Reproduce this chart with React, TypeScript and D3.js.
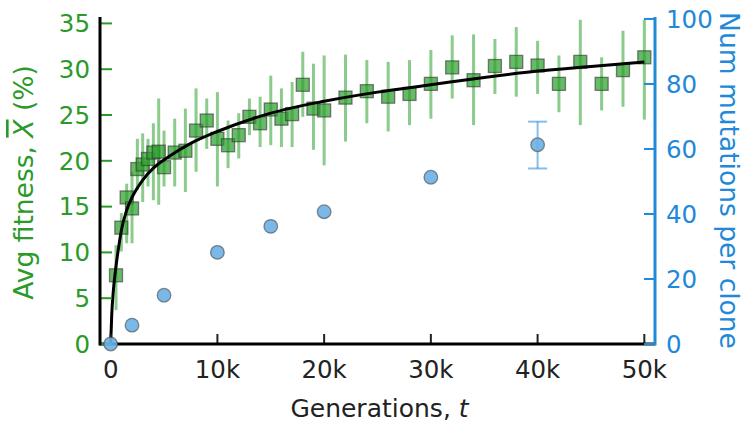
import React from "react";
import * as d3 from "d3";

// Average fitness (%) by generation, with error-bar bounds
const fitGen = [500, 1000, 1500, 2000, 2500, 3000, 3500, 4000, 4500, 5000, 6000, 7000, 8000, 9000, 10000, 11000, 12000, 13000, 14000, 15000, 16000, 17000, 18000, 19000, 20000, 22000, 24000, 26000, 28000, 30000, 32000, 34000, 36000, 38000, 40000, 42000, 44000, 46000, 48000, 50000];
const fitMean = [7.5, 12.7, 16.0, 14.8, 19.1, 19.6, 20.2, 20.9, 21.0, 19.3, 20.9, 21.1, 23.3, 24.4, 22.4, 21.7, 22.8, 24.8, 24.1, 25.6, 24.6, 25.1, 28.3, 25.7, 25.5, 26.9, 27.6, 27.0, 27.3, 28.4, 30.2, 28.8, 30.35, 30.8, 30.4, 28.4, 30.8, 28.4, 29.9, 31.3];
const fitLo = [3.7, 10.1, 11.0, 11.0, 16.8, 15.5, 17.2, 15.7, 15.2, 17.2, 17.2, 16.6, 18.8, 21.3, 17.2, 19.2, 20.25, 22.8, 21.5, 21.7, 21.5, 21.5, 24.8, 21.2, 19.5, 22.1, 24.1, 23.2, 23.9, 24.6, 26.8, 23.9, 27.3, 27.0, 27.3, 25.3, 23.9, 25.5, 25.9, 24.5];
const fitHi = [10.8, 14.3, 17.5, 18.8, 22.4, 23.0, 22.4, 24.1, 26.8, 23.3, 24.6, 25.7, 27.9, 26.8, 27.5, 24.4, 25.2, 26.8, 27.0, 29.3, 27.9, 28.6, 31.9, 30.6, 31.5, 31.6, 31.0, 30.8, 31.0, 32.1, 33.7, 33.8, 33.3, 34.6, 33.1, 31.5, 35.4, 31.3, 34.2, 35.4];

// Fitted trajectory of average fitness
const fitCurveGen = [0, 100, 250, 500, 750, 1000, 1500, 2000, 3000, 4000, 5500, 7500, 10000, 15000, 20000, 25000, 30000, 35000, 40000, 45000, 50000];
const fitCurveVal = [0, 3.2, 5.8, 8.5, 10.6, 12.4, 14.6, 16.0, 17.9, 19.2, 20.5, 21.9, 23.2, 25.2, 26.5, 27.5, 28.3, 29.1, 29.8, 30.3, 30.8];

// Mutations per clone
const mutGen = [0, 2000, 5000, 10000, 15000, 20000, 30000, 40000];
const mutMean = [0, 5.8, 15.0, 28.2, 36.2, 40.7, 51.3, 61.3];
const mutLo: (number | null)[] = [null, null, null, null, null, null, null, 54.0];
const mutHi: (number | null)[] = [null, null, null, null, null, null, null, 68.4];

const xTicks = [0, 10000, 20000, 30000, 40000, 50000];
const xTickLabels = ["0", "10k", "20k", "30k", "40k", "50k"];
const leftTicks = [0, 5, 10, 15, 20, 25, 30, 35];
const rightTicks = [0, 20, 40, 60, 80, 100];

const W = 745;
const H = 424;
const L = 100;
const R = 655;
const T = 17;
const B = 344;

const GREEN = "#2ca02c";
const GREEN_TXT = "#2a9a2a";
const BLUE = "#2288d8";
const FONT = "DejaVu Sans, sans-serif";

export default function App() {
  const x = d3.scaleLinear().domain([-1000, 51000]).range([L, R]);
  const yL = d3.scaleLinear().domain([0, 35.7]).range([B, T]);
  const yR = d3.scaleLinear().domain([0, 100.6]).range([B, T]);

  const curvePts = fitCurveGen.map((g, i) => [g, fitCurveVal[i]] as [number, number]);
  const line = d3
    .line<[number, number]>()
    .x((d) => x(d[0]))
    .y((d) => yL(d[1]))
    .curve(d3.curveMonotoneX);

  const sq = 13;

  return (
    <svg width={W} height={H} style={{ position: "absolute", left: 0, top: 0, background: "#fff" }} fontFamily={FONT}>
      <rect width={W} height={H} fill="#fff" />

      {/* fitness error bars */}
      {fitGen.map((g, i) => (
        <line key={"e" + i} x1={x(g)} x2={x(g)} y1={yL(fitLo[i])} y2={yL(fitHi[i])} stroke={GREEN} strokeOpacity={0.55} strokeWidth={3} />
      ))}
      {/* fitness squares */}
      {fitGen.map((g, i) => (
        <rect
          key={"s" + i}
          x={x(g) - sq / 2}
          y={yL(fitMean[i]) - sq / 2}
          width={sq}
          height={sq}
          fill={GREEN}
          fillOpacity={0.72}
          stroke="#333"
          strokeOpacity={0.6}
          strokeWidth={1.3}
        />
      ))}
      {/* fitted curve */}
      <path d={line(curvePts) || ""} fill="none" stroke="#000" strokeWidth={3} />

      {/* axes: bottom */}
      {xTicks.map((t, i) => (
        <g key={"xt" + i}>
          <line x1={x(t)} x2={x(t)} y1={B} y2={B - 10} stroke="#222" strokeWidth={2} />
          <text x={x(t)} y={378} textAnchor="middle" fontSize={24.5} fill="#222">
            {xTickLabels[i]}
          </text>
        </g>
      ))}
      <line x1={L} x2={R} y1={B} y2={B} stroke="#000" strokeWidth={3} />
      <text x={(L + R) / 2 + 2} y={417} textAnchor="middle" fontSize={25} fill="#222">
        Generations, <tspan fontStyle="italic">t</tspan>
      </text>

      {/* left axis */}
      {leftTicks.map((t, i) => (
        <g key={"yl" + i}>
          <line x1={L} x2={L + 12} y1={yL(t)} y2={yL(t)} stroke={GREEN_TXT} strokeWidth={2} />
          <text x={90} y={yL(t)} dy="0.36em" textAnchor="end" fontSize={24.5} fill={GREEN_TXT}>
            {t}
          </text>
        </g>
      ))}
      <line x1={L} x2={L} y1={T} y2={B + 1.5} stroke="#000" strokeWidth={3} />
      <text transform={`translate(33,${(T + B) / 2 + 2}) rotate(-90)`} textAnchor="middle" fontSize={26.5} fill={GREEN_TXT}>
        Avg fitness, <tspan fontStyle="italic" textDecoration="overline">X</tspan> (%)
      </text>

      {/* right axis */}
      {rightTicks.map((t, i) => (
        <g key={"yr" + i}>
          <line x1={R} x2={R - 11} y1={yR(t)} y2={yR(t)} stroke={BLUE} strokeWidth={2} />
          <text x={666} y={yR(t)} dy="0.36em" textAnchor="start" fontSize={24.5} fill={BLUE}>
            {t}
          </text>
        </g>
      ))}
      <line x1={R} x2={R} y1={T} y2={B + 1.5} stroke={BLUE} strokeWidth={3} />
      <text transform={`translate(720,${(T + B) / 2}) rotate(90)`} textAnchor="middle" fontSize={26.5} fill={BLUE}>
        Num mutations per clone
      </text>

      {/* mutation error bars */}
      {mutGen.map((g, i) =>
        mutLo[i] != null && mutHi[i] != null ? (
          <g key={"me" + i} stroke={BLUE} strokeOpacity={0.55} strokeWidth={2}>
            <line x1={x(g)} x2={x(g)} y1={yR(mutLo[i] as number)} y2={yR(mutHi[i] as number)} />
            <line x1={x(g) - 9.5} x2={x(g) + 9.5} y1={yR(mutLo[i] as number)} y2={yR(mutLo[i] as number)} />
            <line x1={x(g) - 9.5} x2={x(g) + 9.5} y1={yR(mutHi[i] as number)} y2={yR(mutHi[i] as number)} />
          </g>
        ) : null
      )}
      {/* mutation points */}
      {mutGen.map((g, i) => (
        <circle
          key={"m" + i}
          cx={x(g)}
          cy={yR(mutMean[i])}
          r={6.8}
          fill="#6cb0e6"
          fillOpacity={0.9}
          stroke="#444"
          strokeOpacity={0.6}
          strokeWidth={1.3}
        />
      ))}
    </svg>
  );
}
